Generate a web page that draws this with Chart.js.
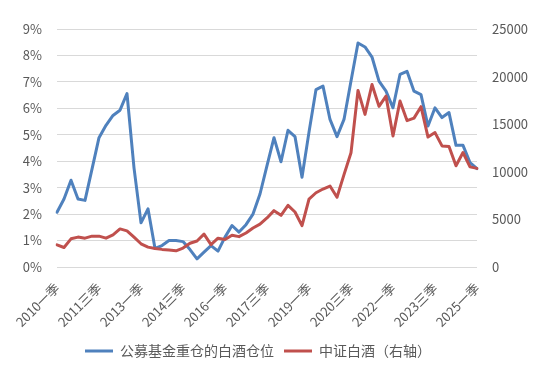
<!DOCTYPE html>
<html lang="zh">
<head>
<meta charset="UTF-8">
<title>白酒仓位</title>
<script src="https://cdn.jsdelivr.net/npm/chart.js"></script>
<style>
    html, body { margin: 0; padding: 0; background: #fff; }
    #wrap { width: 542px; height: 368px; position: relative; }
</style>
</head>
<body>
<div id="wrap"><canvas id="chart"></canvas></div>
<script>
// quarters 2010一季 .. 2025一季
const quarterNames = ["一季", "二季", "三季", "四季"];
const firstYear = 2010;
const pointCount = 61;
const labels = [];
for (let i = 0; i < pointCount; i++) {
    labels.push((firstYear + Math.floor(i / 4)) + quarterNames[i % 4]);
}

// 公募基金重仓的白酒仓位 (%)
const fundWeight = [
    2.07, 2.57, 3.28, 2.57, 2.52, 3.70, 4.89, 5.36, 5.73, 5.93,
    6.56, 3.75, 1.67, 2.20, 0.70, 0.81, 1.00, 1.00, 0.96, 0.66,
    0.31, 0.56, 0.81, 0.60, 1.13, 1.57, 1.32, 1.60, 2.00, 2.76,
    3.83, 4.89, 3.98, 5.17, 4.93, 3.39, 5.10, 6.71, 6.84, 5.58,
    4.93, 5.58, 7.03, 8.47, 8.32, 7.94, 7.03, 6.65, 6.02, 7.28,
    7.40, 6.65, 6.52, 5.33, 6.02, 5.65, 5.84, 4.60, 4.60, 3.95,
    3.72
];

// 中证白酒 (右轴)
const liquorIndex = [
    2330, 2050, 2960, 3140, 3030, 3240, 3240, 3030, 3380, 4000,
    3800, 3140, 2440, 2090, 1950, 1850, 1780, 1700, 1990, 2500,
    2730, 3450, 2350, 3030, 2890, 3340, 3190, 3570, 4100, 4500,
    5150, 5920, 5430, 6480, 5780, 4350, 7140, 7800, 8190, 8500,
    7320, 9700, 12000, 18550, 16030, 19170, 16870, 17950, 13770, 17430,
    15380, 15640, 16840, 13650, 14120, 12720, 12660, 10630, 12030, 10520,
    10360
];

const leftTicks = { min: 0, max: 9, step: 1 };
const rightTicks = { min: 0, max: 25000, step: 5000 };

const textColor = "#595959";
const gridColor = "#d9d9d9";
const fontFamily = "'Noto Sans CJK SC', 'Noto Sans', sans-serif";

// the original legend sits a little left of the page centre
const legendShift = {
    id: "legendShift",
    beforeDraw(chart) {
        chart.legend.right = chart.width - 26;
    }
};

new Chart(document.getElementById("chart"), {
    type: "line",
    data: {
        labels: labels,
        datasets: [
            {
                label: "公募基金重仓的白酒仓位",
                data: fundWeight,
                yAxisID: "y",
                borderColor: "#4F81BD",
                backgroundColor: "#4F81BD",
                borderWidth: 3,
                pointRadius: 0,
                tension: 0,
                borderJoinStyle: "round",
                borderCapStyle: "round",
                order: 1
            },
            {
                label: "中证白酒（右轴）",
                data: liquorIndex,
                yAxisID: "y1",
                borderColor: "#C0504D",
                backgroundColor: "#C0504D",
                borderWidth: 3,
                pointRadius: 0,
                tension: 0,
                borderJoinStyle: "round",
                borderCapStyle: "round",
                order: 0
            }
        ]
    },
    plugins: [legendShift],
    options: {
        responsive: true,
        maintainAspectRatio: false,
        animation: false,
        layout: { padding: { top: 29, bottom: 0, left: 0, right: 0 } },
        plugins: {
            tooltip: { enabled: false },
            legend: {
                position: "bottom",
                labels: {
                    usePointStyle: true,
                    pointStyle: "line",
                    pointStyleWidth: 28,
                    boxHeight: 3,
                    padding: 10,
                    color: textColor,
                    font: { family: fontFamily, size: 14 },
                    sort: (a, b) => a.datasetIndex - b.datasetIndex
                }
            }
        },
        scales: {
            x: {
                grid: { display: false, drawTicks: false },
                border: { display: false },
                ticks: {
                    autoSkip: false,
                    maxRotation: 45,
                    minRotation: 45,
                    padding: 13,
                    color: textColor,
                    font: { family: fontFamily, size: 13 },
                    callback: function (value, index) {
                        return index % 6 === 0 ? this.getLabelForValue(value) : "";
                    }
                },
                afterFit: s => { s.height = 67; }
            },
            y: {
                position: "left",
                min: leftTicks.min,
                max: leftTicks.max,
                grid: { color: gridColor, drawTicks: false },
                border: { display: false },
                ticks: {
                    stepSize: leftTicks.step,
                    padding: 15,
                    color: textColor,
                    font: { family: fontFamily, size: 13 },
                    callback: v => v + "%"
                },
                afterFit: s => { s.width = 57; }
            },
            y1: {
                position: "right",
                min: rightTicks.min,
                max: rightTicks.max,
                grid: { drawOnChartArea: false, drawTicks: false },
                border: { display: false },
                ticks: {
                    stepSize: rightTicks.step,
                    padding: 15,
                    color: textColor,
                    font: { family: fontFamily, size: 13 },
                    callback: v => String(v)
                },
                afterFit: s => { s.width = 65; }
            }
        }
    }
});
</script>
</body>
</html>
